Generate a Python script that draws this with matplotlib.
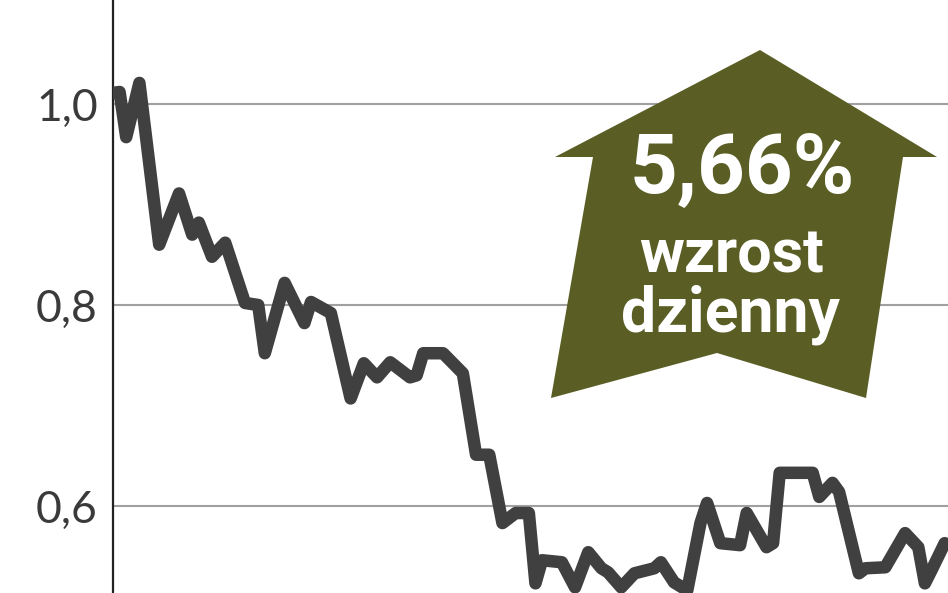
import matplotlib
matplotlib.use('Agg')
import matplotlib.pyplot as plt
from matplotlib.patches import Polygon

# Notowania (dni sesyjne i kurs zamknięcia)
dni = [0, 1, 2, 4, 7, 10, 12, 13, 15, 17, 20, 22, 23, 26, 29, 30, 33, 36, 38, 40,
       42, 45, 46, 47, 50, 53, 55, 57, 59, 61, 63, 64, 65, 68, 70, 72, 74, 75, 77, 79,
       82, 83, 85, 87, 89, 90, 92, 95, 96, 99, 100, 101, 106, 107, 109, 110, 113, 114,
       117, 120, 122, 123, 124, 126]
kurs = [1.011, 1.012, 0.967, 1.021, 0.860, 0.911, 0.870, 0.882, 0.848, 0.862,
        0.802, 0.800, 0.752, 0.822, 0.782, 0.803, 0.792, 0.707, 0.742, 0.728,
        0.743, 0.728, 0.730, 0.752, 0.752, 0.732, 0.651, 0.651, 0.583, 0.593,
        0.593, 0.523, 0.546, 0.544, 0.519, 0.554, 0.538, 0.534, 0.519, 0.533,
        0.538, 0.544, 0.524, 0.516, 0.583, 0.603, 0.563, 0.561, 0.593, 0.559,
        0.563, 0.633, 0.633, 0.609, 0.623, 0.614, 0.533, 0.538, 0.539, 0.573,
        0.559, 0.523, 0.536, 0.563]

ticki = [0.6, 0.8, 1.0]
etykiety = ['0,6', '0,8', '1,0']
zmiana = '5,66%'
opis = ['wzrost', 'dzienny']

W, H = 948, 593
fig = plt.figure(figsize=(W / 100, H / 100), dpi=100)
ax = fig.add_axes([113 / W, 0, 1 - 113 / W, 1])

for t in ticki:
    ax.axhline(t, color='#a0a0a0', lw=1.5, zorder=1)

ax.plot(dni, kurs, color='#404040', lw=9, solid_joinstyle='round',
        solid_capstyle='round', zorder=4)

ax.set_xlim(0, 126.5)
ax.set_ylim(0.5134, 1.1035)
for s in ['top', 'right', 'bottom']:
    ax.spines[s].set_visible(False)
ax.spines['left'].set_linewidth(1.6)
ax.spines['left'].set_color('#222222')
ax.set_xticks([])
ax.set_yticks(ticki)
ax.set_yticklabels(etykiety, fontsize=32, color='#3a3a3a', fontfamily='Lato')
ax.tick_params(axis='y', length=0, pad=11)

# strzałka w górę
pts = [(760, 50), (937, 157), (903, 157), (866, 398), (717, 353),
       (551, 398), (593, 157), (555, 157)]
pts = [(x / W, 1 - y / H) for x, y in pts]
fig.patches.append(Polygon(pts, closed=True, transform=fig.transFigure,
                           facecolor='#5a5e24', edgecolor='none', zorder=3))

fig.text(742 / W, 1 - 193 / H, zmiana, color='white', fontsize=60,
         fontweight='bold', family='Roboto', ha='center', va='baseline')
fig.text(732 / W, 1 - 273 / H, opis[0], color='white', fontsize=44,
         fontweight='bold', family='Roboto', ha='center', va='baseline')
fig.text(730 / W, 1 - 332 / H, opis[1], color='white', fontsize=45,
         fontweight='bold', family='Roboto', ha='center', va='baseline')

fig.savefig('out.png', dpi=100)
